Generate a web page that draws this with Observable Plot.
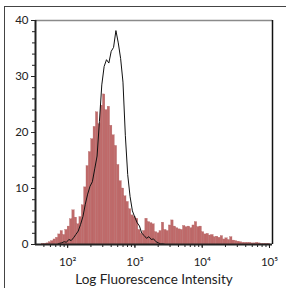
<!DOCTYPE html>
<html>
<head>
<meta charset="utf-8">
<script src="https://cdn.jsdelivr.net/npm/d3@7"></script>
<script src="https://cdn.jsdelivr.net/npm/@observablehq/plot@0.6"></script>
<style>
  html, body { margin: 0; padding: 0; background: #fff; }
  #wrap { position: relative; width: 286px; height: 288px; overflow: hidden; }
  #frame { position: absolute; left: 4px; top: 6px; width: 290px; height: 290px;
           border-left: 1.5px solid #444; border-top: 1.5px solid #444; }
  #chart { position: absolute; left: 0; top: 0; }
</style>
</head>
<body>
<div id="wrap"><div id="frame"></div><div id="chart"></div></div>
<script>
// Histogram bins: evenly spaced in log10(intensity), from 10^1.5 to 10^5 (100 bins)
const binStartLog = 1.5;
const binWidthLog = 0.035;

// Filled (stained) histogram counts, one per bin
const stained = [
  0, 0, 0.1, 0.1, 0.2, 0.4, 0.6, 0.9, 1.2, 1.8,
  2.4, 1.7, 2.6, 3.2, 4.5, 6.1, 4.8, 3.6, 4.9, 7.0,
  10.2, 14.0, 16.5, 18.8, 21.0, 23.6, 21.5, 24.8, 26.8, 24.0,
  24.6, 21.2, 19.5, 17.6, 14.2, 11.3, 10.0, 8.6, 7.6, 6.3,
  5.2, 4.9, 4.6, 2.6, 1.9, 2.4, 4.6, 4.0, 3.8, 3.6,
  2.2, 2.0, 2.4, 3.9, 2.6, 2.4, 3.4, 4.3, 3.2, 2.9,
  2.7, 2.6, 3.3, 3.1, 3.2, 2.9, 3.4, 4.0, 3.1, 3.2,
  2.2, 1.8, 1.9, 1.6, 1.7, 1.3, 1.4, 1.2, 1.5, 0.9,
  1.1, 0.8, 1.3, 0.7, 0.6, 0.5, 0.4, 0.3, 0.3, 0.3,
  0.3, 0.2, 0.2, 0.3, 0.2, 0.1, 0.1, 0.1, 0.1, 0
];

// Outline (control) histogram counts, one per bin
const control = [
  0, 0, 0, 0, 0, 0, 0, 0, 0, 0.2,
  0.3, 0.5, 0.4, 0.9, 0.7, 1.2, 1.8, 2.4, 3.6, 5.0,
  7.2, 9.0, 10.4, 11.2, 13.5, 15.8, 22.0, 28.5, 31.8, 33.0,
  32.4, 34.5, 35.2, 38.2, 36.0, 33.2, 29.0, 19.5, 12.5, 8.6,
  6.0, 4.9, 3.9, 3.3, 2.0, 1.6, 1.1, 1.4, 0.9, 1.0,
  0.5, 0.3, 0.1, 0.1, 0, 0, 0, 0, 0, 0,
  0, 0, 0, 0, 0, 0, 0, 0, 0, 0,
  0, 0, 0, 0, 0, 0, 0, 0, 0, 0,
  0, 0, 0, 0, 0, 0, 0, 0, 0, 0,
  0, 0, 0, 0, 0, 0, 0, 0, 0, 0
];

const yTicks = [0, 10, 20, 30, 40];
const yMinorTicks = [2, 4, 6, 8, 12, 14, 16, 18, 22, 24, 26, 28, 32, 34, 36, 38];
const xTicks = [1e2, 1e3, 1e4, 1e5];
const xTickLabels = ["10\u00B2", "10\u00B3", "10\u2074", "10\u2075"];
const xMinorTicks = [40, 50, 60, 70, 80, 90,
  200, 300, 400, 500, 600, 700, 800, 900,
  2000, 3000, 4000, 5000, 6000, 7000, 8000, 9000,
  20000, 30000, 40000, 50000, 60000, 70000, 80000, 90000];
const xTitle = "Log Fluorescence Intensity";

const bins = stained.map((v, i) => {
  const x1 = 10 ** (binStartLog + binWidthLog * i);
  const x2 = 10 ** (binStartLog + binWidthLog * (i + 1));
  return {x1, x2, xc: Math.sqrt(x1 * x2), stained: v, control: control[i]};
});

const chart = Plot.plot({
  width: 286,
  height: 288,
  marginLeft: 35,
  marginRight: 14,
  marginTop: 20,
  marginBottom: 44,
  style: {fontFamily: "Lato, 'Open Sans', sans-serif", fontSize: "11.5px", color: "#222", background: "transparent"},
  x: {type: "log", domain: [30, 1e5]},
  y: {domain: [0, 40]},
  marks: [
    Plot.rectY(bins, {x1: "x1", x2: "x2", y: "stained", fill: "#bf6a6a", stroke: "#b05e5e", strokeWidth: 0.3, inset: 0}),
    Plot.lineY(bins, {x: "xc", y: "control", stroke: "#111", strokeWidth: 1}),
    Plot.ruleY([40], {stroke: "#8a8a8a", strokeWidth: 1.5}),
    Plot.ruleX([1e5], {stroke: "#111", strokeWidth: 1.5}),
    Plot.axisY({ticks: yTicks, tickSize: 4, tickPadding: 3, label: null}),
    Plot.axisY({ticks: yMinorTicks, tickSize: 3, tickFormat: () => "", label: null}),
    Plot.axisX({ticks: xTicks, tickSize: 4, tickPadding: 9, label: null,
      tickFormat: d => xTickLabels[xTicks.indexOf(d)], dx: -3}),
    Plot.axisX({ticks: xMinorTicks, tickSize: 3, tickFormat: () => "", label: null}),
    Plot.ruleX([30], {stroke: "#222", strokeWidth: 2}),
    Plot.ruleY([0], {stroke: "#222", strokeWidth: 2}),
    Plot.text([xTitle], {frameAnchor: "bottom", dy: 35, lineAnchor: "middle", fontSize: 13.5, fill: "#222"})
  ]
});
document.getElementById("chart").appendChild(chart);
</script>
</body>
</html>
